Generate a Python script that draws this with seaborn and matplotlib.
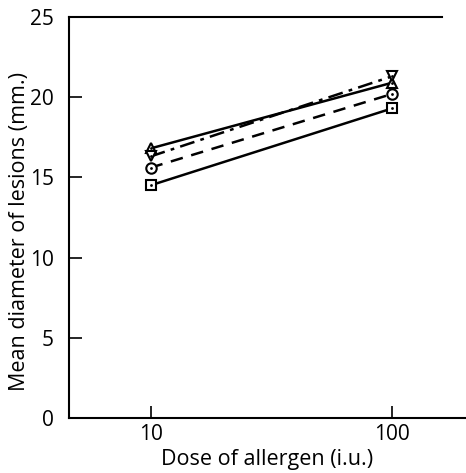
import numpy as np
import pandas as pd
import matplotlib
matplotlib.use("Agg")
import matplotlib.pyplot as plt
import seaborn as sns

sns.set_theme(style="white")
plt.rcParams['font.family'] = ['Open Sans', 'DejaVu Sans']

doses = [10, 100]
series_names = ["triangle_up", "triangle_down", "circle", "square"]
tri_up = [16.8, 20.9]
tri_down = [16.3, 21.3]
circle = [15.6, 20.2]
square = [14.5, 19.3]
yticks = [0, 5, 10, 15, 20, 25]
xticks = [10, 100]

rows = []
for name, vals in zip(series_names, [tri_up, tri_down, circle, square]):
    for d, v in zip(doses, vals):
        rows.append({"dose": d, "diameter": v, "series": name})
df = pd.DataFrame(rows)

fig = plt.figure(figsize=(4.66, 4.73), dpi=100)
ax = fig.add_axes([0.148, 0.1163, 0.850, 0.848])

styles = {
    "triangle_up": ("-", "^"),
    "triangle_down": ((0, (6, 2.5, 1.5, 2.5)), "v"),
    "circle": ((0, (5, 3.5)), "o"),
    "square": ("-", "s"),
}
for name in series_names:
    sub = df[df["series"] == name]
    ls, mk = styles[name]
    sns.lineplot(data=sub, x="dose", y="diameter", ax=ax, color="black",
                 linewidth=1.8, linestyle=ls, marker=mk, markersize=7.5,
                 markerfacecolor="white", markeredgecolor="black",
                 markeredgewidth=1.5, legend=False)
sns.scatterplot(data=df, x="dose", y="diameter", ax=ax, color="black",
                s=4, linewidth=0, legend=False, zorder=5)

ax.set_xscale("log")
ax.set_xlim(4.6, 200)
ax.set_ylim(0, 25)
ax.set_xticks(xticks)
ax.set_xticklabels([str(t) for t in xticks])
ax.xaxis.set_minor_locator(matplotlib.ticker.NullLocator())
ax.set_yticks(yticks)
ax.set_yticklabels([str(t) for t in yticks])
ax.tick_params(axis="both", which="major", bottom=True, left=True, top=False, right=False,
               direction="in", length=9, width=1.2,
               labelsize=15, colors="black")
ax.tick_params(axis="x", pad=4)
ax.tick_params(axis="y", pad=11)
for lbl in ax.get_xticklabels() + ax.get_yticklabels():
    lbl.set_fontweight("medium")
ax.set_xlabel("Dose of allergen (i.u.)", fontsize=15.5, color="black", labelpad=3,
              fontweight="medium")
ax.set_ylabel("Mean diameter of lesions (mm.)", fontsize=15.5, color="black", labelpad=0,
              fontweight="medium")
ax.yaxis.label.set_y(0.465)

for s in ["left", "bottom", "top"]:
    ax.spines[s].set_color("black")
    ax.spines[s].set_linewidth(1.5)
ax.spines["right"].set_visible(False)
ax.spines["top"].set_bounds(4.6, 160)

fig.savefig("out.png", dpi=100)
